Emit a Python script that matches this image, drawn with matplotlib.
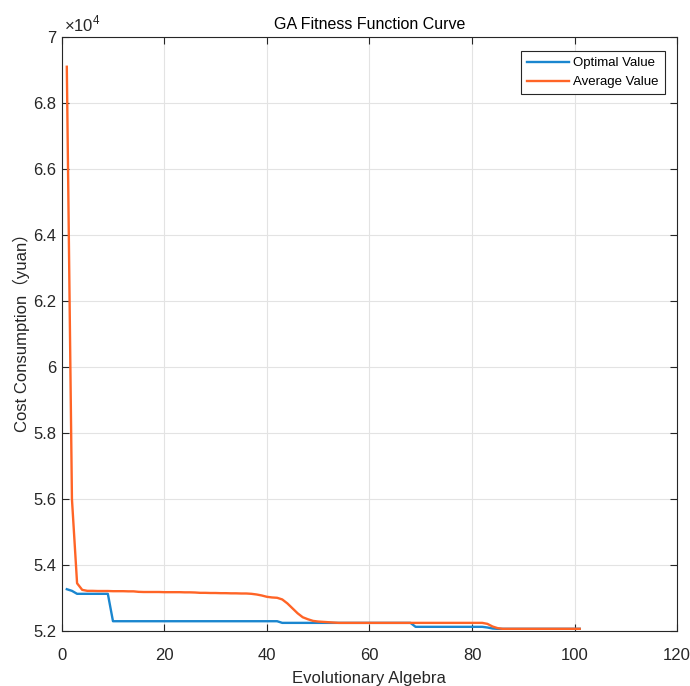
import numpy as np
import matplotlib
matplotlib.use('Agg')
import matplotlib.pyplot as plt
from matplotlib.ticker import FuncFormatter

# GA fitness curve, values in yuan, one value per generation
avg_value = [69100, 56000, 53450, 53250, 53220, 53220, 53215, 53215, 53215, 53210,
             53210, 53210, 53205, 53205, 53190, 53185, 53185, 53185, 53185, 53180,
             53180, 53180, 53180, 53175, 53175, 53170, 53160, 53160, 53155, 53155,
             53150, 53150, 53145, 53145, 53140, 53140, 53130, 53110, 53080, 53040,
             53020, 53010, 52960, 52840, 52690, 52540, 52420, 52360, 52310, 52290,
             52280, 52270, 52260, 52250, 52250, 52250, 52250, 52250, 52250, 52250,
             52250, 52250, 52250, 52250, 52250, 52250, 52250, 52250, 52250, 52250,
             52250, 52250, 52250, 52250, 52250, 52250, 52250, 52250, 52250, 52250,
             52250, 52250, 52220, 52140, 52090, 52070, 52070, 52070, 52070, 52070,
             52070, 52070, 52070, 52070, 52070, 52070, 52070, 52070, 52070, 52070,
             52070]

opt_value = [53270, 53220, 53130, 53130, 53130, 53130, 53130, 53130, 53130, 52300,
             52300, 52300, 52300, 52300, 52300, 52300, 52300, 52300, 52300, 52300,
             52300, 52300, 52300, 52300, 52300, 52300, 52300, 52300, 52300, 52300,
             52300, 52300, 52300, 52300, 52300, 52300, 52300, 52300, 52300, 52300,
             52300, 52300, 52250, 52250, 52250, 52250, 52250, 52250, 52250, 52250,
             52250, 52250, 52250, 52250, 52250, 52250, 52250, 52250, 52250, 52250,
             52250, 52250, 52250, 52250, 52250, 52250, 52250, 52250, 52130, 52130,
             52130, 52130, 52130, 52130, 52130, 52130, 52130, 52130, 52130, 52130,
             52130, 52130, 52110, 52080, 52070, 52070, 52070, 52070, 52070, 52070,
             52070, 52070, 52070, 52070, 52070, 52070, 52070, 52070, 52070, 52070,
             52070]

gens = np.arange(1, len(avg_value) + 1)

label_font = ['Liberation Sans', 'Noto Sans CJK SC', 'DejaVu Sans']
plt.rcParams['font.family'] = label_font
plt.rcParams['mathtext.fontset'] = 'custom'
plt.rcParams['mathtext.rm'] = 'Liberation Sans'

fig = plt.figure(figsize=(6.9, 6.86), dpi=100)
ax = fig.add_axes([0.0894, 0.080, 0.892, 0.866])

dark = '#262626'
ax.plot(gens, opt_value, color='#1A86CF', lw=1.7, label='Optimal Value')
ax.plot(gens, avg_value, color='#FF6426', lw=1.7, label='Average Value')

ax.set_xlim(0, 120)
ax.set_ylim(52000, 70000)
ax.set_xticks(np.arange(0, 121, 20))
ax.set_yticks(np.arange(52000, 70001, 2000))
ax.yaxis.set_major_formatter(FuncFormatter(lambda v, p: '%g' % round(v / 1e4, 2)))
ax.grid(True, color='#e3e3e3', lw=0.8)
ax.set_axisbelow(True)

for s in ax.spines.values():
    s.set_color(dark)
    s.set_linewidth(0.8)
ax.tick_params(direction='in', top=True, right=True, colors=dark, length=5,
               width=0.8, labelsize=12)
ax.tick_params(axis='x', pad=12)
ax.tick_params(axis='y', pad=4)

ax.text(0.003, 1.004, r'$\times$10$^{4}$', transform=ax.transAxes, fontsize=12,
        color=dark, ha='left', va='bottom')

ax.set_title('GA Fitness Function Curve', fontsize=11.5, color='black', pad=6)
ax.set_xlabel('Evolutionary Algebra', fontsize=12, color=dark, labelpad=6)
ax.set_ylabel('Cost Consumption（yuan）', fontsize=12, color=dark)
ax.yaxis.set_label_coords(-0.051, 0.51)

leg = ax.legend(loc='upper right', bbox_to_anchor=(0.98, 0.976), borderaxespad=0,
                fancybox=False, framealpha=1, edgecolor=dark, handlelength=3.2,
                prop={'size': 9.5}, labelspacing=0.5,
                borderpad=0.45, handletextpad=0.35)
leg.get_frame().set_linewidth(0.8)

fig.savefig('out.png', dpi=100)
